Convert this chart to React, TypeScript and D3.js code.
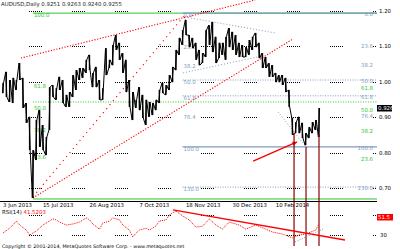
import React from "react";
import * as d3 from "d3";

// ---------- data ----------
const titleText = "AUDUSD,Daily  0.9251 0.9263 0.9240 0.9255";
const indicatorName = "RSI(14)";
const indicatorValue = "41.5203";
const footerText = "Copyright \u00a9 2001-2014, MetaQuotes Software Corp. - www.metaquotes.net";

const dateLabels = ["3 Jun 2013", "15 Jul 2013", "26 Aug 2013", "7 Oct 2013", "18 Nov 2013", "30 Dec 2013", "10 Feb 2014"];
const dateIdx = [0, 12, 26, 41, 55, 69, 82];

const priceTicks = [1.2, 1.1, 1.0, 0.9, 0.8, 0.7];
const rsiTicks = [70, 30];

const highs = [
  0.997, 1.028, 1.005, 1.011, 1.005, 1.053, 1.011, 0.94, 0.901, 0.807,
  0.892, 0.92, 0.878, 0.844, 0.985, 0.991, 0.982, 1.014, 1.005, 0.963,
  0.971, 1.019, 1.033, 1.039, 1.039, 1.062, 1.076, 1.025, 1.042, 1.005,
  0.982, 1.095, 1.062, 1.104, 1.132, 1.11, 1.081, 1.062, 1.005, 0.971,
  0.949, 0.985, 0.963, 0.949, 0.943, 0.94, 0.949, 0.977, 0.997, 0.991,
  1.019, 1.042, 1.09, 1.124, 1.146, 1.175, 1.132, 1.124, 1.11, 1.09,
  1.081, 1.146, 1.16, 1.169, 1.127, 1.11, 1.11, 1.127, 1.152, 1.141,
  1.132, 1.11, 1.104, 1.098, 1.118, 1.127, 1.138, 1.11, 1.081, 1.07,
  1.053, 1.047, 1.025, 1.019, 1.019, 1.011, 0.977, 0.898, 0.886, 0.901,
  0.884, 0.855, 0.872, 0.886, 0.892, 0.926,
];
const lows = [
  0.968, 0.957, 0.943, 0.94, 0.977, 1.005, 0.926, 0.884, 0.807, 0.672,
  0.779, 0.816, 0.807, 0.793, 0.864, 0.957, 0.949, 0.977, 0.94, 0.929,
  0.929, 0.957, 0.977, 1.005, 1.011, 1.025, 1.033, 0.985, 0.985, 0.949,
  0.949, 1.019, 1.039, 1.047, 1.09, 1.062, 1.025, 0.971, 0.929, 0.892,
  0.926, 0.92, 0.898, 0.878, 0.901, 0.906, 0.92, 0.94, 0.968, 0.963,
  0.977, 0.999, 1.033, 1.076, 1.104, 1.132, 1.098, 1.095, 1.062, 1.047,
  1.053, 1.07, 1.104, 1.084, 1.053, 1.067, 1.076, 1.062, 1.098, 1.09,
  1.076, 1.07, 1.07, 1.07, 1.076, 1.09, 1.098, 1.067, 1.039, 1.039,
  1.014, 1.014, 0.999, 0.999, 0.991, 0.971, 0.929, 0.85, 0.855, 0.855,
  0.841, 0.821, 0.841, 0.855, 0.864, 0.844,
];
const lastPrice = 0.926;

const rsiIdx = [0, 2, 3, 4, 5, 7, 8, 10, 11, 12, 14, 15, 16, 17, 19, 21, 23, 25, 26, 27, 29, 30, 32, 33, 35, 36, 38, 39, 40, 41, 43, 44, 46, 47, 49, 50, 52, 54, 56, 58, 60, 62, 64, 66, 68, 71, 73, 76, 79, 81, 84, 87, 89, 91, 94, 95];
const rsiVal = [33, 43, 49.5, 57.5, 49.5, 39, 29, 37, 43, 49.5, 58, 62, 60, 55.5, 49.5, 51.5, 55.5, 64, 60, 51.5, 41, 53.5, 57.5, 64, 60, 49.5, 39, 25, 33, 39, 43, 39, 47.5, 57.5, 60, 70, 78, 68, 60, 45, 47, 62, 49.5, 41, 55.5, 49.5, 41, 49.5, 41, 35, 31, 23, 29, 31, 39, 51.5];

// trend lines: [idx1, value1, idx2, value2]
const redUpper = [5.4, 1.067, 75.8, 1.231];
const redLower = [9.0, 0.672, 87.2, 1.121];
const redSteep = [9.0, 0.675, 54.7, 1.189];
const blueUpper = [54.7, 1.183, 81.8, 1.138];
const blueLower = [54.1, 1.025, 77.9, 1.073];
const blueDiag = [82.7, 0.915, 91.1, 0.816];
const arrowLine = [75.2, 0.776, 88.4, 0.83];
const rsiTrend = [51.1, 80.3, 102.8, 18.7];
const rsiBlue = [87.8, 14.6, 96.2, 41.3];

const markerIdx = [87.5, 91.1, 95];
const markerPrice = [0.855, 0.816, 0.852];

// fibonacci (green): low -> high
const gFibLow = 0.669, gFibHigh = 1.194, gFibStart = 9;
const gFibRatios = [1, 0.618, 0.5, 0.382, 0.236];
const gFibText = ["100.0", "61.8", "50.0", "38.2", "23.6"];
const gFibRightRatios = [0.618, 0.5, 0.382, 0.236];
const gFibRightText = ["61.8", "50.0", "38.2", "23.6"];
const gSupport = 0.943;
// fibonacci (blue): high -> low
const bFibHigh = 1.194, bFibLow = 0.816, bFibStart = 54;
const bFibRatios = [0, 0.236, 0.382, 0.5, 0.618, 0.764, 1, 1.3];
const bFibText = ["0.0", "23.6", "38.2", "50.0", "61.8", "76.4", "100.0", "130.0"];
const bFibSolid = [0, 1];
const bFibDotted = [0.5, 0.618, 1.3];

export default function App() {
  const W = 400, H = 249;
  const R = 377;
  const x = d3.scaleLinear().domain([0, 95]).range([3, 319]);
  const y = d3.scaleLinear().domain([0.7, 1.2]).range([188, 11]);
  const ry = d3.scaleLinear().domain([30, 70]).range([234.5, 215]);

  const pts: [number, number][] = [];
  highs.forEach((h, i) => {
    const l = lows[i];
    const mid = (h + l) / 2;
    const next = i < highs.length - 1 ? (highs[i + 1] + lows[i + 1]) / 2 : mid;
    const xi = x(i);
    if (next < mid) pts.push([xi - 0.6, y(h)], [xi + 0.6, y(l)]);
    else pts.push([xi - 0.6, y(l)], [xi + 0.6, y(h)]);
  });
  const pricePath = d3.line()(pts) || "";
  const rsiPath = d3.line<number>().x((_, i) => x(rsiIdx[i])).y((v) => ry(v))(rsiVal) || "";

  const gridDash = "1 1 1 1 1 1 1 1 1 1 1 1 1 30";
  const fs = 5.4;
  const font = "DejaVu Sans";
  const blue = "#7f9bc0";
  const green = "#2ec52e";

  const seg = (a: number[], ys = y) => ({ x1: x(a[0]), y1: ys(a[1]), x2: x(a[2]), y2: ys(a[3]) });

  const gY = (r: number) => y(gFibLow + r * (gFibHigh - gFibLow));
  const bY = (r: number) => y(bFibHigh - r * (bFibHigh - bFibLow));

  const ar = seg(arrowLine);
  const ang = Math.atan2(ar.y2 - ar.y1, ar.x2 - ar.x1);
  const ah = 5;
  const head = [
    [ar.x2, ar.y2],
    [ar.x2 - ah * Math.cos(ang - 0.45), ar.y2 - ah * Math.sin(ang - 0.45)],
    [ar.x2 - ah * Math.cos(ang + 0.45), ar.y2 - ah * Math.sin(ang + 0.45)],
  ].map((p) => p.join(",")).join(" ");

  return (
    <svg width={W} height={H} style={{ position: "absolute", left: 0, top: 0, background: "#fff" }} fontFamily={font}>
      <rect x={0} y={0} width={W} height={H} fill="#fff" />
      {/* grid */}
      {priceTicks.map((t) => (
        <line key={"g" + t} x1={0} x2={R} y1={Math.round(y(t)) + 0.5} y2={Math.round(y(t)) + 0.5} stroke="#000" strokeWidth={1} strokeDasharray={gridDash} strokeDashoffset={14} />
      ))}
      {rsiTicks.map((t) => (
        <line key={"rg" + t} x1={0} x2={R} y1={Math.round(ry(t)) + 0.5} y2={Math.round(ry(t)) + 0.5} stroke="#000" strokeWidth={1} strokeDasharray={gridDash} strokeDashoffset={14} />
      ))}

      {/* green fib */}
      <line x1={x(gFibStart)} x2={R} y1={gY(0)} y2={gY(0)} stroke={green} strokeWidth={1} />
      <line x1={x(gFibStart)} x2={R} y1={gY(1)} y2={gY(1)} stroke={green} strokeWidth={1} />
      <line x1={x(gFibStart)} x2={R} y1={y(gSupport)} y2={y(gSupport)} stroke={green} strokeWidth={1} strokeDasharray="1 1.5" />
      {gFibRatios.map((r, i) => (
        <text key={"gf" + i} fill={green} fontSize={fs} x={x(gFibStart) + 1} y={gY(r) + 4}>{gFibText[i]}</text>
      ))}
      {gFibRightRatios.map((r, i) => (
        <text key={"gfr" + i} fill={green} fontSize={fs} x={R - 4} y={gY(r) + 5.5} textAnchor="end">{gFibRightText[i]}</text>
      ))}

      {/* blue fib */}
      {bFibSolid.map((r) => (
        <line key={"bs" + r} x1={x(bFibStart)} x2={R} y1={bY(r)} y2={bY(r)} stroke={blue} strokeWidth={1.2} />
      ))}
      {bFibDotted.map((r) => (
        <line key={"bd" + r} x1={x(bFibStart)} x2={R} y1={bY(r)} y2={bY(r)} stroke={blue} strokeWidth={1} strokeDasharray="1 1.5" />
      ))}
      {bFibRatios.map((r, i) => (
        <g key={"bf" + i} fill={blue} fontSize={fs}>
          <text x={x(bFibStart) + 1} y={bY(r) + 4}>{bFibText[i]}</text>
          <text x={R - 4} y={bY(r) + 3} textAnchor="end">{bFibText[i]}</text>
        </g>
      ))}

      {/* trend lines */}
      {[redUpper, redLower].map((a, i) => (
        <line key={"rl" + i} {...seg(a)} stroke="#f00" strokeWidth={1.1} strokeDasharray="1.2 1.6" />
      ))}
      <line {...seg(redSteep)} stroke="#f00" strokeWidth={1.1} strokeDasharray="1.2 4" />
      {[blueUpper, blueLower, blueDiag].map((a, i) => (
        <line key={"bl" + i} {...seg(a)} stroke={blue} strokeWidth={1} strokeDasharray="1 2" />
      ))}

      {/* price */}
      {highs.map((h, i) => (
        <rect key={"b" + i} x={x(i) - 0.7} y={y(h)} width={1.4} height={Math.max(1, y(lows[i]) - y(h))} fill="#000" />
      ))}
      <path d={pricePath} fill="none" stroke="#000" strokeWidth={1} />

      {/* arrow */}
      <line x1={ar.x1} y1={ar.y1} x2={ar.x2} y2={ar.y2} stroke="#f00" strokeWidth={1.4} />
      <polygon points={head} fill="#f00" />

      {/* vertical markers */}
      {markerIdx.map((m, i) => (
        <line key={"m" + i} x1={x(m)} x2={x(m)} y1={y(markerPrice[i])} y2={246} stroke="#8b0000" strokeWidth={1.2} />
      ))}

      {/* panel separator */}
      <line x1={0} x2={R} y1={201.5} y2={201.5} stroke="#000" strokeWidth={1} />

      {/* rsi */}
      <line {...seg(rsiTrend, ry)} stroke="#f00" strokeWidth={1.3} />
      <line {...seg(rsiBlue, ry)} stroke={blue} strokeWidth={1} strokeDasharray="1 1.5" />
      <path d={rsiPath} fill="none" stroke="#f00" strokeWidth={1} strokeDasharray="1 1" />

      {/* right axis */}
      {priceTicks.map((t) => (
        <text key={"t" + t} x={379} y={y(t) + 2} fontSize={fs} fill="#000">{d3.format(".2f")(t)}</text>
      ))}
      <rect x={377} y={y(lastPrice) - 3} width={15} height={6.5} fill="#000" />
      <text x={378} y={y(lastPrice) + 2.2} fontSize={fs} fill="#fff">{d3.format(".3f")(lastPrice)}</text>
      <rect x={377} y={ry(70) - 1} width={16} height={6.5} fill="#f00" />
      <text x={378} y={ry(70) + 4} fontSize={fs} fill="#fff">{d3.format(".1f")(rsiVal[rsiVal.length - 1])}</text>
      <text x={380} y={ry(30) + 2} fontSize={fs} fill="#000">30</text>

      {/* date labels */}
      {dateLabels.map((d, i) => (
        <text key={"d" + i} x={x(dateIdx[i])} y={207} fontSize={fs} fill="#000">{d}</text>
      ))}

      {/* texts */}
      <text x={1} y={6} fontSize={fs} fill="#222">{titleText}</text>
      <text x={2} y={214} fontSize={fs} fill="#000">
        {indicatorName} <tspan fill="#f00">{indicatorValue}</tspan>
      </text>
      <text x={2} y={247.5} fontSize={4.8} fill="#000">{footerText}</text>
    </svg>
  );
}
